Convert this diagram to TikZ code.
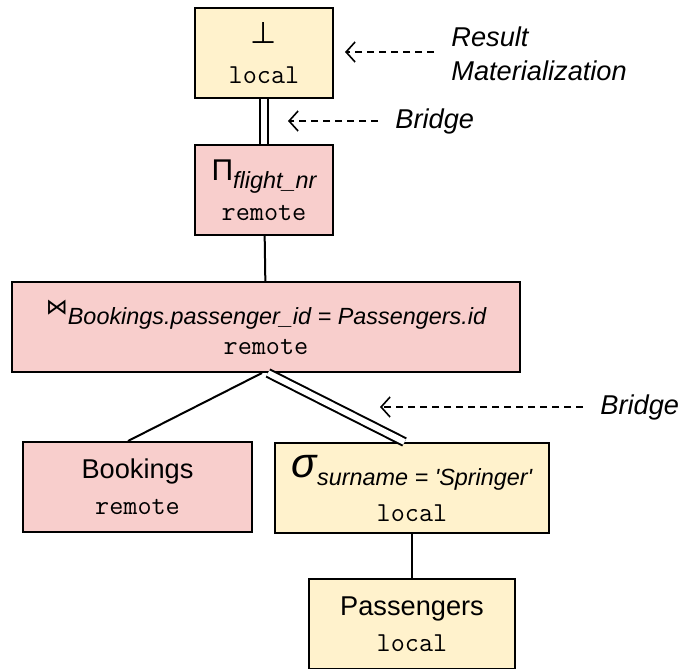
\documentclass[tikz,border=0pt]{standalone}
\usepackage{fontspec}
\setmainfont{Liberation Sans}
\setsansfont{Liberation Sans}
\newfontfamily\symfont{DejaVu Sans}
\usetikzlibrary{positioning, arrows.meta}

\definecolor{localfill}{HTML}{FFF2CC}
\definecolor{remotefill}{HTML}{F8CECC}

% operator label: big symbol with an italic subscript
\newcommand{\opsym}[3][15]{{\fontsize{#1}{#1}\selectfont #2}\raisebox{-4pt}{\fontsize{11.7}{12}\selectfont\itshape #3}}
\newcommand{\site}[1]{{\ttfamily\fontsize{13.7}{14}\selectfont #1}}

\tikzset{
	opbox/.style={draw, line width=1pt, minimum height=45pt, align=center, inner sep=0pt,
		font=\fontsize{13.6}{17}\selectfont},
	localop/.style={opbox, fill=localfill},
	remoteop/.style={opbox, fill=remotefill},
	bridge/.style={double=white, double distance=3pt, line width=1pt},
	hint/.style={dashed, dash pattern=on 3.5pt off 2.5pt, line width=0.8pt,
		-{Straight Barb[length=4.5pt, width=10pt, line width=0.8pt]}, shorten <=6.5pt},
	note/.style={anchor=west, align=left, inner sep=2pt, font=\itshape\fontsize{13.6}{17}\selectfont}
}

\begin{document}
\begin{tikzpicture}[x=0.5pt, y=-0.5pt]
	\useasboundingbox (0,0) rectangle (681,669);
	\clip (0,0) rectangle (681,669);

	% Operator tree
	\node[localop, minimum width=69pt] (result) at (264,53) {{\symfont\fontsize{15}{15}\selectfont ⊥}\\[3pt]\site{local}};
	\node[remoteop, minimum width=69pt] (proj) at (264,190) {\opsym{Π}{flight\_nr}\\[3pt]\site{remote}};
	\node[remoteop, minimum width=254pt] (join) at (266,327)
		{\opsym[11]{\raisebox{1pt}{\symfont ⋈}}{Bookings.passenger\_id = Passengers.id}\\[2pt]\site{remote}};
	\node[remoteop, minimum width=114.5pt] (bookings) at (137.5,487) {Bookings\\[1pt]\site{remote}};
	\node[localop, minimum width=137pt] (select) at (412,488)
		{\opsym[21]{\itshape σ}{surname = \textquotesingle Springer\textquotesingle}\\[5pt]\site{local}};
	\node[localop, minimum width=103pt] (passengers) at (412,624) {Passengers\\[1pt]\site{local}};

	% Edges, bridges drawn double
	\draw[bridge] (result) -- (proj);
	\draw[line width=1pt] (proj) -- (join);
	\draw[line width=1pt] ([xshift=-2pt]join.south) -- ([xshift=-4.75pt]bookings.north);
	\draw[bridge] ([xshift=1pt]join.south) -- ([xshift=-3.75pt]select.north);
	\draw[line width=1pt] (select) -- (passengers);

	% Annotations
	\node[note] (resmat) at (447,54) {Result\\Materialization};
	\node[note] (bridgetop) at (391,121) {Bridge};
	\node[note] (bridgelow) at (596,407) {Bridge};
	\coordinate (resmattip) at (345,52);
	\coordinate (bridgetoptip) at (288,121);
	\coordinate (bridgelowtip) at (380,407);
	\draw[hint] (resmat.west |- resmattip) -- (resmattip);
	\draw[hint] (bridgetop.west) -- (bridgetoptip);
	\draw[hint] (bridgelow.west) -- (bridgelowtip);
\end{tikzpicture}
\end{document}
